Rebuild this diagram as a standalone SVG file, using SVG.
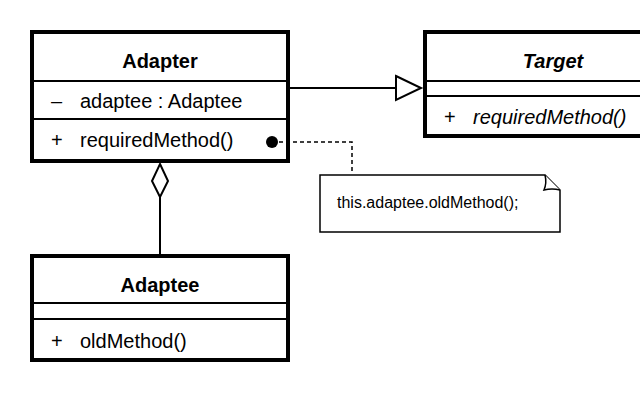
<svg xmlns="http://www.w3.org/2000/svg" width="640" height="400" viewBox="0 0 640 400">
<style>
.box{fill:#fff;stroke:#000;stroke-width:4}
.div{stroke:#000;stroke-width:2}
.t{font-family:"Liberation Sans",Arial,sans-serif;font-size:20px;fill:#000}
.title{font-weight:bold;text-anchor:middle}
.it{font-style:italic}
.note{fill:#fff;stroke:#000;stroke-width:1.5}
.nt{font-family:"Liberation Sans",Arial,sans-serif;font-size:16px;fill:#000}
.ln{fill:none;stroke:#000;stroke-width:2}
.dash{fill:none;stroke:#000;stroke-width:1.5;stroke-dasharray:4 3}
</style>
<rect width="640" height="400" fill="#fff"/>
<g id="adapter">
<rect class="box" x="32" y="32" width="256" height="129"/>
<line class="div" x1="32" y1="81" x2="288" y2="81"/>
<line class="div" x1="32" y1="119" x2="288" y2="119"/>
<text class="t title" x="160" y="68">Adapter</text>
<text class="t" x="51" y="108">–</text>
<text class="t" x="80" y="108">adaptee : Adaptee</text>
<text class="t" x="51" y="147">+</text>
<text class="t" x="80" y="147">requiredMethod()</text>
</g>
<g id="target">
<rect class="box" x="425" y="32" width="256" height="104"/>
<line class="div" x1="425" y1="81" x2="681" y2="81"/>
<line class="div" x1="425" y1="96" x2="681" y2="96"/>
<text class="t title it" x="553" y="68">Target</text>
<text class="t" x="444" y="124">+</text>
<text class="t it" x="473" y="124">requiredMethod()</text>
</g>
<g id="adaptee">
<rect class="box" x="32" y="256" width="256" height="104"/>
<line class="div" x1="32" y1="303" x2="288" y2="303"/>
<line class="div" x1="32" y1="319" x2="288" y2="319"/>
<text class="t title" x="160" y="292">Adaptee</text>
<text class="t" x="51" y="348">+</text>
<text class="t" x="80" y="348">oldMethod()</text>
</g>
<g id="note">
<path class="note" d="M320,175 H545 L560,190 V232 H320 Z"/>
<path fill="#fff" stroke="#000" stroke-width="1.5" d="M545,175 Q547,183 544,190 Q552,188 560,190"/>
<text class="nt" x="337" y="208">this.adaptee.oldMethod();</text>
</g>
<g id="connectors">
<line class="ln" x1="290" y1="88" x2="396" y2="88"/>
<polygon points="396,76 421,88 396,100" fill="#fff" stroke="#000" stroke-width="2"/>
<line class="ln" x1="160" y1="197" x2="160" y2="254"/>
<polygon points="160,164 168,181 160,197 152,181" fill="#fff" stroke="#000" stroke-width="2"/>
<polyline class="dash" points="272,142 352,142 352,174"/>
<circle cx="272" cy="142" r="6" fill="#000"/>
</g>
</svg>
